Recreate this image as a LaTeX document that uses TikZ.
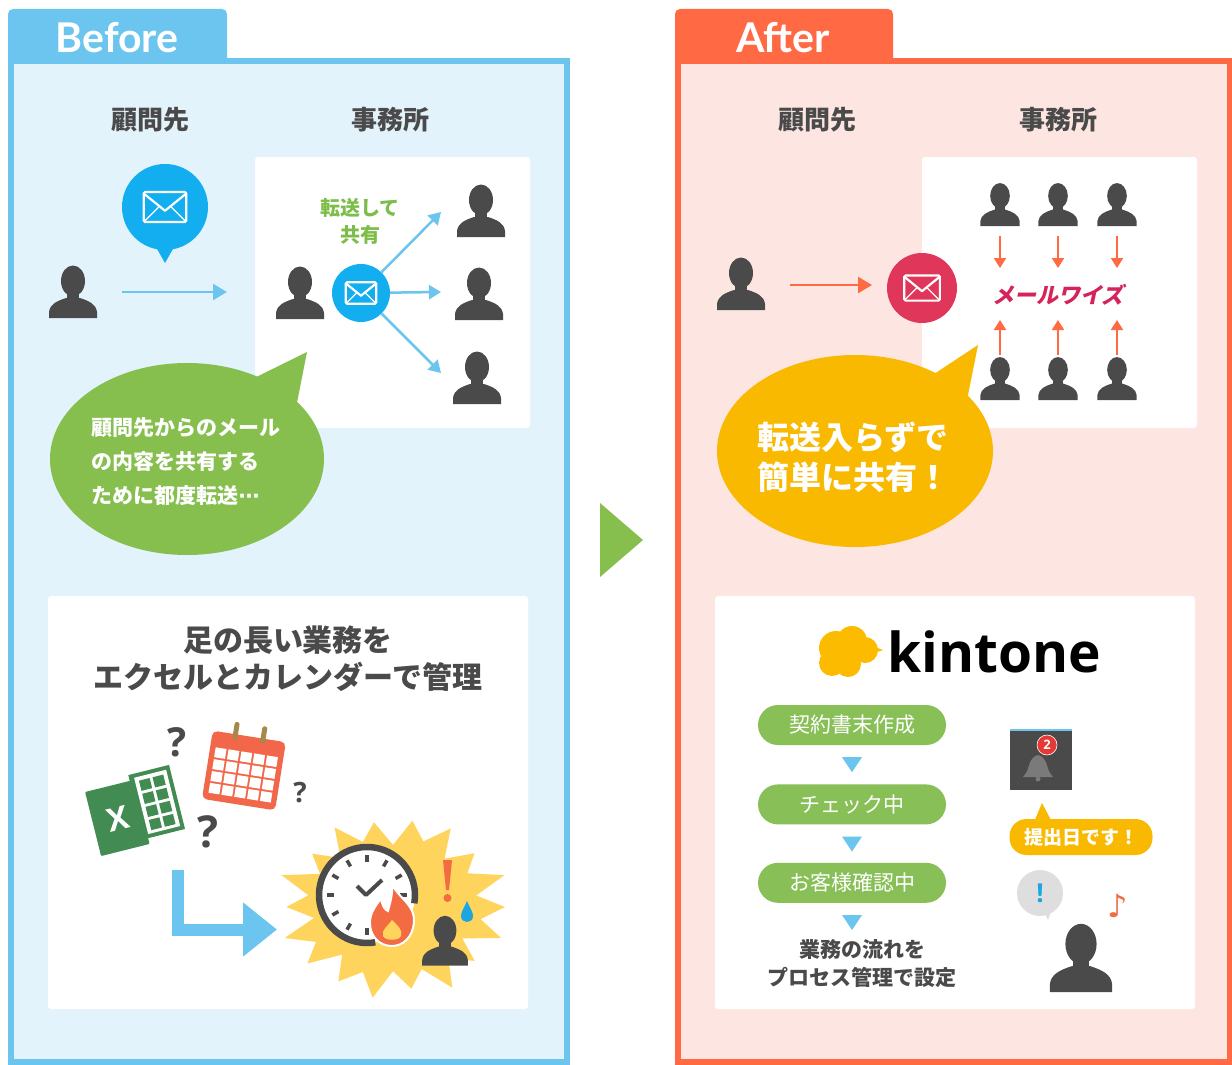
\documentclass[tikz,border=0pt]{standalone}
\usepackage{fontspec}
\setmainfont{Noto Sans CJK JP}
\newfontfamily\tabfont{Lato}
\newfontfamily\logofont{Open Sans}
\newfontfamily\mwfont[FakeSlant=0.22]{Noto Sans CJK JP}
\newfontfamily\symfont{DejaVu Sans}
\usetikzlibrary{positioning,arrows.meta,shapes.geometric}

\definecolor{bfblue}{HTML}{6CC5EE}
\definecolor{bfbg}{HTML}{E3F3FC}
\definecolor{afred}{HTML}{FF6A45}
\definecolor{afbg}{HTML}{FDE6E1}
\definecolor{mailblue}{HTML}{12AEEF}
\definecolor{mailpink}{HTML}{E0365A}
\definecolor{mwred}{HTML}{D6245A}
\definecolor{dark}{HTML}{4A4A4A}
\definecolor{bubgreen}{HTML}{86BF4E}
\definecolor{txtgreen}{HTML}{7DBE4A}
\definecolor{pillgreen}{HTML}{88C057}
\definecolor{bubyellow}{HTML}{F8B900}
\definecolor{burst}{HTML}{FFD45C}
\definecolor{fire}{HTML}{F26B43}
\definecolor{xlgreen}{HTML}{428C53}
\definecolor{calred}{HTML}{F2674A}
\definecolor{calring}{HTML}{A5884A}
\definecolor{kinyellow}{HTML}{FDBB00}
\definecolor{drop}{HTML}{1BA5E3}
\definecolor{bellgray}{HTML}{7A7A7A}
\definecolor{alertgray}{HTML}{DEDEDE}
\definecolor{badgered}{HTML}{E53935}

\newcommand\pfont[2]{\fontsize{#1}{#2}\selectfont}
% small down triangle under a flow step
\newcommand\downtri[1]{\fill[bfblue] ([yshift=-12pt]#1) ++(-10,0) -- ++(20,0) -- ++(-10,15) -- cycle;}

\tikzset{
  person/.pic={
    \fill[dark] (0,-10) ellipse [x radius=12, y radius=15.5];
    \fill[dark] (-6,0) rectangle (6,9);
    \fill[dark] (-24,27) -- (-24,21) .. controls (-23,13) and (-16,10) .. (-7,7)
      -- (7,7) .. controls (16,10) and (23,13) .. (24,21) -- (24,27) -- cycle;
    \coordinate (-top) at (0,-27);
    \coordinate (-foot) at (0,27);
  },
  envelope/.pic={
    \draw[white, line width=2.2pt, rounded corners=1.5pt] (-17,-12) rectangle (17,12);
    \draw[white, line width=2.2pt, line join=round] (-16,-10) -- (0,3) -- (16,-10);
    \draw[white, line width=1.2pt] (-16,11) -- (-5,0) (16,11) -- (5,0);
  },
  tablabel/.style={text=white, font=\tabfont\bfseries\pfont{41}{42}},
  colhead/.style={text=dark, font=\bfseries\pfont{26}{28}},
  mailnode/.style={circle, inner sep=0pt, minimum size=#1},
  bfarrow/.style={bfblue, line width=2.5pt, -{Triangle[length=14pt,width=16pt]}},
  hubarrow/.style={bfblue, line width=2.5pt, -{Triangle[length=12pt,width=14pt]}},
  afarrow/.style={afred, line width=2.5pt, -{Triangle[length=14pt,width=16pt]}},
  mwarrow/.style={afred, line width=2pt, -{Triangle[length=10pt,width=12pt]}},
  bubtext/.style n args={2}{text=white, font=\bfseries\pfont{#1}{#2}, align=left, anchor=west},
  pill/.style={fill=pillgreen, rounded corners=20pt, minimum width=188pt, minimum height=40pt,
    text=white, font=\pfont{21}{24}},
  quest/.style={text=dark, font=\logofont\bfseries\pfont{#1}{#1}},
}

\begin{document}
\begin{tikzpicture}[x=1pt, y=-1pt]
  \useasboundingbox (0,0) rectangle (1232,1065);

  %%%% before panel
  \fill[bfblue, rounded corners=5pt] (8,9) rectangle (227,70);
  \fill[bfblue] (8,58) rectangle (570,1065);
  \fill[bfbg] (14,64) rectangle (564,1059);
  \node[tablabel] (bftab) at (117,38) {Before};

  \node[colhead] (bfclient) at (150,120) {顧問先};
  \node[colhead] (bfoffice) at (390,120) {事務所};

  % mail bubble over the client
  \fill[mailblue] (152,240) -- (165,263) -- (178,240) -- cycle;
  \node[mailnode=86pt, fill=mailblue] (bfmail) at (165,207) {};
  \pic[scale=1.25] at (bfmail) {envelope};

  \pic (bfcl) at (73,291) {person};
  \coordinate (bfsend) at (122,292);
  \coordinate (bfrecv) at (227,292);
  \draw[bfarrow] (bfsend) -- (bfrecv);

  % office box, forwarding to everybody
  \fill[white, rounded corners=3pt] (255,157) rectangle (530,428);
  \pic (bfme) at (300,292) {person};
  \node[mailnode=58pt, fill=mailblue] (bfhub) at (361,293) {};
  \pic[scale=0.9] at (bfhub) {envelope};
  \coordinate (bfto1) at (441,212);
  \coordinate (bfto2) at (441,292);
  \coordinate (bfto3) at (441,373);
  \foreach \k in {1,2,3} \draw[hubarrow] (bfhub) -- (bfto\k);
  \pic (bfp1) at (481,210) {person};
  \pic (bfp2) at (479,293) {person};
  \pic (bfp3) at (477,377) {person};
  \node[text=txtgreen, font=\bfseries\pfont{20}{27}, align=center] (bffwd) at (360,221) {転送して\\共有};

  % green speech bubble
  \fill[bubgreen] (240,385) -- (307,352) -- (292,428) -- cycle;
  \fill[bubgreen] (187,459) ellipse [x radius=137, y radius=96];
  \node[bubtext={21}{34}] (bfsay) at (88,462)
    {顧問先からのメール\\の内容を共有する\\ために都度転送{\symfont ⋯}};

  % second box: spreadsheet and calendar
  \fill[white, rounded corners=3pt] (48,596) rectangle (528,1009);
  \node[text=dark, font=\bfseries\pfont{30}{37}, align=center] (bftitle) at (288,659)
    {足の長い業務を\\エクセルとカレンダーで管理};

  \begin{scope}[shift={(137,810)}, rotate=14]
    \fill[xlgreen] (0,-36) rectangle (42,30);
    \fill[white] (5,-32) rectangle (38,26);
    \foreach \r in {0,...,3}
      \foreach \c in {0,1}
        \fill[xlgreen] ({9+\c*14},{-28+\r*13.5}) rectangle ++(11,10.5);
    \fill[xlgreen, rounded corners=1pt] (-46,-30) rectangle (4,36);
    \node[text=white, font=\logofont\bfseries\pfont{32}{32}, transform shape] (xlx) at (-21,4) {X};
  \end{scope}

  \begin{scope}[shift={(244,770)}, rotate=-9]
    \fill[calred, rounded corners=5pt] (-37,-34) rectangle (37,35);
    \foreach \r in {0,...,3}
      \foreach \c in {0,...,4}
        \fill[white] ({-31.5+\c*13},{-18+\r*12}) rectangle ++(11,10);
    \draw[calring, line width=5pt, line cap=round] (-14,-44) -- (-14,-31) (14,-44) -- (14,-31);
  \end{scope}

  \node[quest=40] (q1) at (177,742) {?};
  \node[quest=28] (q2) at (300,793) {?};
  \node[quest=44] (q3) at (208,832) {?};

  % bent arrow to the deadline
  \coordinate (lstart) at (177.5,870);
  \coordinate (lend) at (277,929.5);
  \draw[bfblue, line width=12pt, -{Triangle[length=34pt,width=52pt]}] (lstart) |- (lend);

  % starburst with clock
  \fill[burst] plot[samples at={0,...,35}, variable=\i]
    ({393+(mod(\i,2)==0 ? 112 : 84)*(1+0.06*sin(\i*77))*cos(\i*10)},
     {907+(mod(\i,2)==0 ? 88 : 66)*(1+0.06*sin(\i*77))*sin(\i*10)}) -- cycle;
  \coordinate (clk) at (367,895);
  \fill[white] (clk) circle (48pt);
  \draw[dark, line width=6.5pt] (clk) ++(80:48) arc[start angle=80, end angle=370, radius=48];
  \foreach \a in {0,90,120,...,330}
    \draw[dark, line width=3.5pt] (clk) ++(\a:33) -- ++(\a:7);
  \draw[dark, line width=4pt, line join=round] (357,886) -- (366,895) -- (382,880);
  \fill[fire, draw=white, line width=2pt] (392,884) .. controls (398,898) and (415,904) .. (414,922)
    .. controls (413,937) and (403,946) .. (392,946) .. controls (379,946) and (370,936) .. (370,923)
    .. controls (370,911) and (377,905) .. (381,898) .. controls (382,906) and (385,910) .. (388,911)
    .. controls (390,903) and (393,894) .. (392,884) -- cycle;
  \fill[burst] (392,920) .. controls (398,926) and (403,930) .. (401,936)
    .. controls (399,941) and (385,941) .. (383,936) .. controls (381,930) and (388,926) .. (392,920) -- cycle;
  \fill[fire] (443,860) -- (452,860) -- (449,890) -- (446,890) -- cycle;
  \fill[fire] (447.5,898) circle (4pt);
  \fill[drop] (467,901) .. controls (470,908) and (473,912) .. (473,916)
    .. controls (473,920) and (470,922) .. (467,922) .. controls (464,922) and (461,920) .. (461,916)
    .. controls (461,912) and (464,908) .. (467,901) -- cycle;
  \pic[scale=0.95] (bfrush) at (445,940) {person};

  %%%% arrow between panels
  \fill[bubgreen] (600,503) -- (643,540) -- (600,577) -- cycle;

  %%%% after panel
  \fill[afred, rounded corners=5pt] (675,9) rectangle (893,70);
  \fill[afred] (675,58) rectangle (1232,1065);
  \fill[afbg] (681,64) rectangle (1227,1059);
  \node[tablabel] (aftab) at (783,38) {After};

  \node[colhead] (afclient) at (817,120) {顧問先};
  \node[colhead] (afoffice) at (1058,120) {事務所};

  \fill[white, rounded corners=3pt] (922,157) rectangle (1197,428);
  \pic (afcl) at (741,283) {person};
  \coordinate (afsend) at (790,285);
  \coordinate (afrecv) at (872,285);
  \draw[afarrow] (afsend) -- (afrecv);
  \node[mailnode=70pt, fill=mailpink] (afmail) at (922,288) {};
  \pic[scale=1.05] at (afmail) {envelope};

  % shared mailbox
  \node[text=mwred, font=\mwfont\bfseries\pfont{22}{22}] (mw) at (1058,295) {メールワイズ};
  \coordinate (mwtop) at (1058,268);
  \coordinate (mwbot) at (1058,320);
  \foreach \k/\x in {1/1000,2/1058,3/1117} {
    \pic[scale=0.82] (up\k) at (\x,204) {person};
    \pic[scale=0.82] (dn\k) at (\x,378) {person};
    \draw[mwarrow, shorten <=10pt] (up\k-foot) -- (up\k-foot |- mwtop);
    \draw[mwarrow, shorten <=1pt] (dn\k-top) -- (dn\k-top |- mwbot);
  }

  % yellow speech bubble
  \fill[bubyellow] (925,380) -- (978,345) -- (965,410) -- cycle;
  \fill[bubyellow] (855,451) ellipse [x radius=138, y radius=96];
  \node[bubtext={32}{40}] (afsay) at (754,457) {転送入らずで\\簡単に共有！};

  % kintone box
  \fill[white, rounded corners=3pt] (715,596) rectangle (1195,1009);
  \fill[kinyellow] (836,648) circle (17pt) (852,641) circle (15pt) (865,650) circle (13pt)
    (832,663) circle (13pt) (848,664) circle (13pt);
  \fill[kinyellow] (865,643) -- (883,650) -- (865,656) -- cycle;
  \node[anchor=base west, inner sep=0pt, font=\logofont\bfseries\pfont{55}{55}] (kin) at (887,672) {kintone};

  \node[pill] (st1) at (852,725) {契約書末作成};
  \node[pill, below=39pt of st1] (st2) {チェック中};
  \node[pill, below=38pt of st2] (st3) {お客様確認中};
  \downtri{st1.south}
  \downtri{st2.south}
  \downtri{st3.south}
  \node[text=dark, font=\bfseries\pfont{21}{28}, align=center] (flow) at (862,964)
    {業務の流れを\\プロセス管理で設定};

  % notification
  \node[fill=dark, minimum width=62pt, minimum height=60pt, inner sep=0pt] (bell) at (1041,760) {};
  \draw[bfblue, line width=1.5pt] (bell.north west) -- (bell.north east);
  \fill[bellgray] (1023,777) -- (1026,773) .. controls (1029,769) and (1029,757) .. (1038,755)
    .. controls (1047,757) and (1047,769) .. (1050,773) -- (1053,777) -- cycle;
  \fill[bellgray] (1038,779) circle (2.5pt);
  \node[circle, fill=badgered, draw=white, line width=0.6pt, minimum size=20pt, inner sep=0pt,
    text=white, font=\logofont\bfseries\pfont{13}{13}] (badge) at (1047,745) {2};

  \fill[bubyellow] (1034,822) -- (1042,803) -- (1052,822) -- cycle;
  \node[fill=bubyellow, rounded corners=17pt, minimum width=143pt, minimum height=36pt,
    text=white, font=\bfseries\pfont{19}{19}] (due) at (1081,837) {提出日です！};

  \fill[alertgray] (1042,908) -- (1048,920) -- (1053,906) -- cycle;
  \node[circle, fill=alertgray, minimum size=46pt, inner sep=0pt, text=drop,
    font=\logofont\bfseries\pfont{26}{26}] (alert) at (1040,893) {!};
  \pic[scale=1.3] (afme) at (1081,957) {person};
  \node[text=fire, font=\symfont\pfont{32}{32}] (note) at (1118,906) {♪};
\end{tikzpicture}
\end{document}
